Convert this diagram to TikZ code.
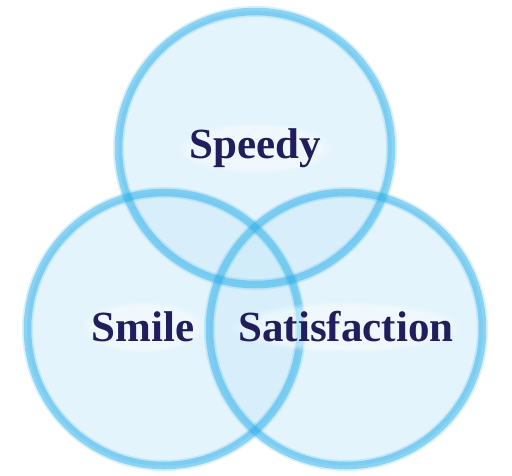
\documentclass[tikz,border=0pt]{standalone}
\usepackage{fontspec}
\setmainfont{Liberation Serif}
\usetikzlibrary{fadings}
\begin{document}
\begin{tikzpicture}[x=1pt,y=-1pt,
  ringfill/.style={fill=paleblue,fill opacity=0.55,draw=none},
  ringglow/.style={draw=ringblue,line width=11,draw opacity=0.18},
  ringline/.style={draw=ringblue,line width=7.5,draw opacity=0.45},
  label/.style={font=\bfseries\fontsize{43}{43}\selectfont,inner sep=2,text=navy},
  halo/.style={fill=white,path fading=circle with fuzzy edge 20 percent,fill opacity=0.45}]
\definecolor{ringblue}{HTML}{29AEE8}
\definecolor{paleblue}{HTML}{CEEBFA}
\definecolor{navy}{HTML}{221E5C}
\useasboundingbox (0,0) rectangle (512,475);
\coordinate (ct) at (255,148);
\coordinate (cl) at (164,329);
\coordinate (cr) at (346,329);
\foreach \c in {ct,cl,cr}{\fill[ringfill] (\c) circle (137);}
\foreach \c in {ct,cl,cr}{\draw[ringglow] (\c) circle (136.5);}
\foreach \c in {ct,cl,cr}{\draw[ringline] (\c) circle (136.5);}
\fill[halo] (255,148) ellipse (78 and 26);
\fill[halo] (143,327) ellipse (62 and 26);
\fill[halo] (346,327) ellipse (116 and 26);
\node[label] (speedy) at (255,148) {Speedy};
\node[label] (smile) at (143,327) {Smile};
\node[label] (satis) at (346,327) {Satisfaction};
\end{tikzpicture}
\end{document}
